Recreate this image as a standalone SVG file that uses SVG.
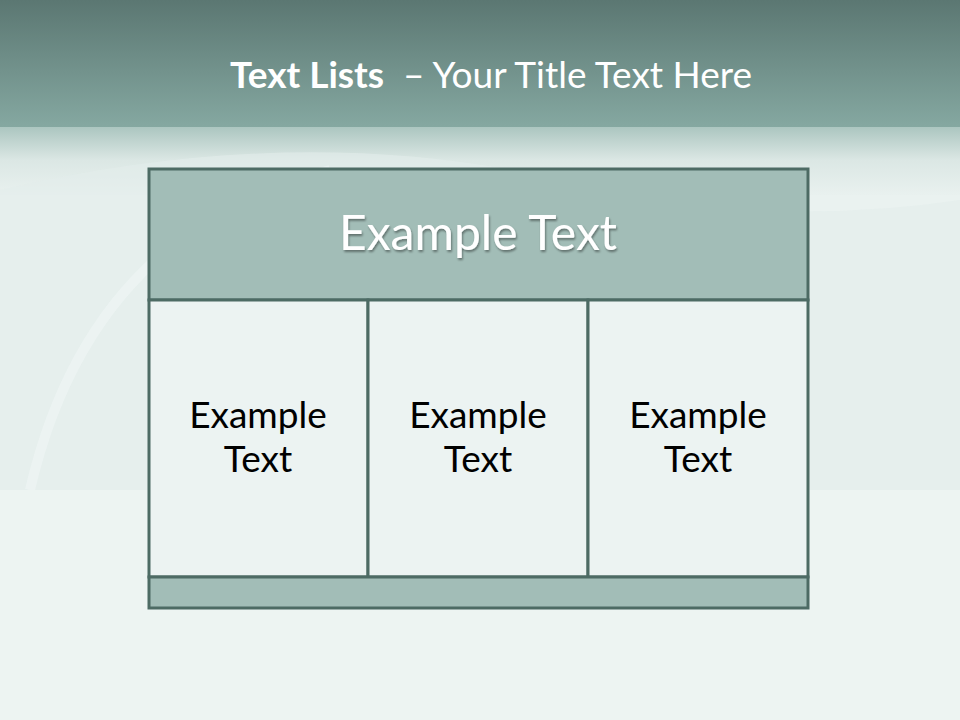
<svg xmlns="http://www.w3.org/2000/svg" width="960" height="720" viewBox="0 0 960 720">
<style>
.t{font-family:Lato,"Open Sans","Liberation Sans",sans-serif}
.box{stroke:#4d6b64;stroke-width:3}
.hd{fill:#a2bdb7}
.cell{fill:#ecf3f2}
.ct{font-size:37px;fill:#000;text-anchor:middle}
</style>
<defs>
<linearGradient id="top" x1="0" y1="0" x2="0" y2="1">
<stop offset="0" stop-color="#5b7772"/>
<stop offset="1" stop-color="#85a8a1"/>
</linearGradient>
<linearGradient id="fade" x1="0" y1="0" x2="0" y2="1">
<stop offset="0" stop-color="#a9c4be"/>
<stop offset="0.5" stop-color="#dbe7e4"/>
<stop offset="1" stop-color="#e9f1ef"/>
</linearGradient>
<filter id="sh" x="-10%" y="-10%" width="120%" height="130%">
<feDropShadow dx="1" dy="2" stdDeviation="1.2" flood-color="#000" flood-opacity="0.4"/>
</filter>
</defs>
<g id="background">
<rect width="960" height="720" fill="#eaf2f0"/>
<rect y="125" width="960" height="70" fill="url(#fade)"/>
<path d="M0 190 Q300 120 560 180 Q760 230 960 200 L960 490 L0 490 Z" fill="#e3edeb" opacity="0.6"/>
<path d="M30 490 Q90 230 330 170" fill="none" stroke="#f6faf9" stroke-width="10" opacity="0.4"/>
<path d="M0 490 L960 490 L960 720 L0 720 Z" fill="#edf4f2"/>
<rect width="960" height="127" fill="url(#top)"/>
</g>
<g id="title">
<text x="491" y="88" class="t" font-size="37" fill="#fff" text-anchor="middle"><tspan font-weight="bold">Text Lists</tspan><tspan xml:space="preserve">  – Your Title Text Here</tspan></text>
</g>
<g id="header">
<rect class="box hd" x="149" y="169" width="659" height="131"/>
<text x="478" y="250" class="t" font-size="48" fill="#fff" text-anchor="middle" filter="url(#sh)">Example Text</text>
</g>
<g id="col1">
<rect class="box cell" x="149" y="300" width="219" height="277"/>
<text class="t ct" x="258" y="428">Example</text>
<text class="t ct" x="258" y="472">Text</text>
</g>
<g id="col2">
<rect class="box cell" x="368" y="300" width="220" height="277"/>
<text class="t ct" x="478" y="428">Example</text>
<text class="t ct" x="478" y="472">Text</text>
</g>
<g id="col3">
<rect class="box cell" x="588" y="300" width="220" height="277"/>
<text class="t ct" x="698" y="428">Example</text>
<text class="t ct" x="698" y="472">Text</text>
</g>
<g id="footer">
<rect class="box hd" x="149" y="577" width="659" height="31"/>
</g>
</svg>
